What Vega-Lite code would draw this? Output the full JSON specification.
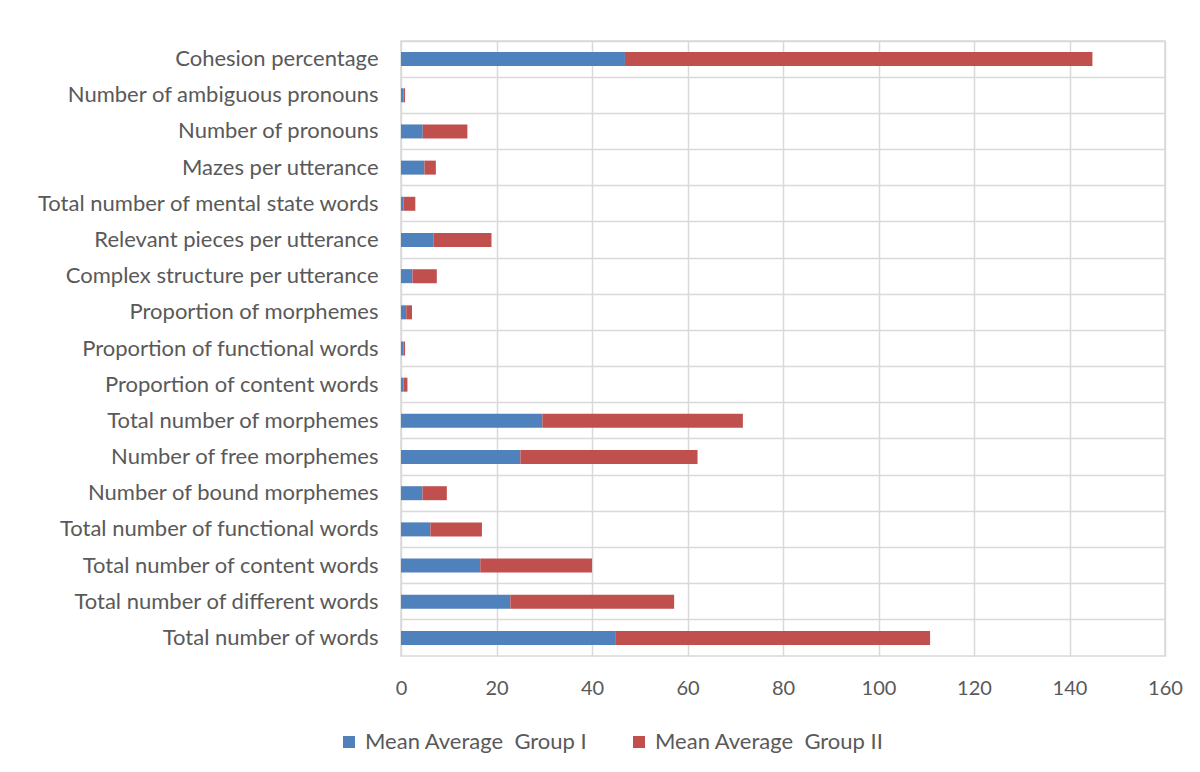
{
  "$schema": "https://vega.github.io/schema/vega-lite/v6.json",
  "width": 764,
  "height": 615,
  "autosize": {"type": "none"},
  "padding": {"left": 401, "top": 41, "right": 35, "bottom": 116},
  "background": "white",
  "config": {
    "view": {"stroke": "#d9d9d9", "strokeWidth": 1.5},
    "font": "Lato",
    "axis": {"labelFont": "Lato", "labelColor": "#595959", "labelFontSize": 20, "gridColor": "#d9d9d9", "gridWidth": 1.5, "domain": false, "ticks": false, "title": null, "labelLimit": 0}
  },
  "data": {
    "values": [
      {"m": "Cohesion percentage", "g": "Mean Average\u00a0 Group I", "o": 1, "v": 46.9},
      {"m": "Cohesion percentage", "g": "Mean Average\u00a0 Group II", "o": 2, "v": 97.9},
      {"m": "Number of ambiguous pronouns", "g": "Mean Average\u00a0 Group I", "o": 1, "v": 0.55},
      {"m": "Number of ambiguous pronouns", "g": "Mean Average\u00a0 Group II", "o": 2, "v": 0.3},
      {"m": "Number of pronouns", "g": "Mean Average\u00a0 Group I", "o": 1, "v": 4.55},
      {"m": "Number of pronouns", "g": "Mean Average\u00a0 Group II", "o": 2, "v": 9.35},
      {"m": "Mazes per utterance", "g": "Mean Average\u00a0 Group I", "o": 1, "v": 4.9},
      {"m": "Mazes per utterance", "g": "Mean Average\u00a0 Group II", "o": 2, "v": 2.4},
      {"m": "Total number of mental state words", "g": "Mean Average\u00a0 Group I", "o": 1, "v": 0.5},
      {"m": "Total number of mental state words", "g": "Mean Average\u00a0 Group II", "o": 2, "v": 2.5},
      {"m": "Relevant pieces per utterance", "g": "Mean Average\u00a0 Group I", "o": 1, "v": 6.85},
      {"m": "Relevant pieces per utterance", "g": "Mean Average\u00a0 Group II", "o": 2, "v": 12.1},
      {"m": "Complex structure per utterance", "g": "Mean Average\u00a0 Group I", "o": 1, "v": 2.4},
      {"m": "Complex structure per utterance", "g": "Mean Average\u00a0 Group II", "o": 2, "v": 5.1},
      {"m": "Proportion of morphemes", "g": "Mean Average\u00a0 Group I", "o": 1, "v": 1.1},
      {"m": "Proportion of morphemes", "g": "Mean Average\u00a0 Group II", "o": 2, "v": 1.2},
      {"m": "Proportion of functional words", "g": "Mean Average\u00a0 Group I", "o": 1, "v": 0.5},
      {"m": "Proportion of functional words", "g": "Mean Average\u00a0 Group II", "o": 2, "v": 0.35},
      {"m": "Proportion of content words", "g": "Mean Average\u00a0 Group I", "o": 1, "v": 0.55},
      {"m": "Proportion of content words", "g": "Mean Average\u00a0 Group II", "o": 2, "v": 0.8},
      {"m": "Total number of morphemes", "g": "Mean Average\u00a0 Group I", "o": 1, "v": 29.6},
      {"m": "Total number of morphemes", "g": "Mean Average\u00a0 Group II", "o": 2, "v": 42.0},
      {"m": "Number of free morphemes", "g": "Mean Average\u00a0 Group I", "o": 1, "v": 25.0},
      {"m": "Number of free morphemes", "g": "Mean Average\u00a0 Group II", "o": 2, "v": 37.1},
      {"m": "Number of bound morphemes", "g": "Mean Average\u00a0 Group I", "o": 1, "v": 4.5},
      {"m": "Number of bound morphemes", "g": "Mean Average\u00a0 Group II", "o": 2, "v": 5.1},
      {"m": "Total number of functional words", "g": "Mean Average\u00a0 Group I", "o": 1, "v": 6.15},
      {"m": "Total number of functional words", "g": "Mean Average\u00a0 Group II", "o": 2, "v": 10.8},
      {"m": "Total number of content words", "g": "Mean Average\u00a0 Group I", "o": 1, "v": 16.6},
      {"m": "Total number of content words", "g": "Mean Average\u00a0 Group II", "o": 2, "v": 23.4},
      {"m": "Total number of different words", "g": "Mean Average\u00a0 Group I", "o": 1, "v": 22.9},
      {"m": "Total number of different words", "g": "Mean Average\u00a0 Group II", "o": 2, "v": 34.3},
      {"m": "Total number of words", "g": "Mean Average\u00a0 Group I", "o": 1, "v": 45.0},
      {"m": "Total number of words", "g": "Mean Average\u00a0 Group II", "o": 2, "v": 65.8}
    ]
  },
  "mark": {"type": "bar", "size": 14},
  "encoding": {
    "y": {
      "field": "m", "type": "nominal", "sort": null,
      "scale": {"paddingInner": 0, "paddingOuter": 0},
      "axis": {"labelPadding": 23, "grid": true, "bandPosition": 0, "labelFontSize": 22}
    },
    "x": {
      "field": "v", "type": "quantitative", "stack": "zero",
      "scale": {"domain": [0, 160], "nice": false},
      "axis": {"values": [0, 20, 40, 60, 80, 100, 120, 140, 160], "labelPadding": 22, "grid": true, "labelFlush": false}
    },
    "order": {"field": "o", "type": "quantitative"},
    "color": {
      "field": "g", "type": "nominal",
      "scale": {"domain": ["Mean Average\u00a0 Group I", "Mean Average\u00a0 Group II"], "range": ["#4f81bd", "#c0504d"]},
      "legend": {
        "title": null, "orient": "none", "direction": "horizontal",
        "legendX": -63, "legendY": 690,
        "symbolType": "square", "symbolSize": 144, "symbolStrokeWidth": 0,
        "labelFontSize": 22, "labelColor": "#595959", "labelFont": "Lato", "labelLimit": 0,
        "columnPadding": 40, "labelOffset": 5
      }
    }
  }
}
